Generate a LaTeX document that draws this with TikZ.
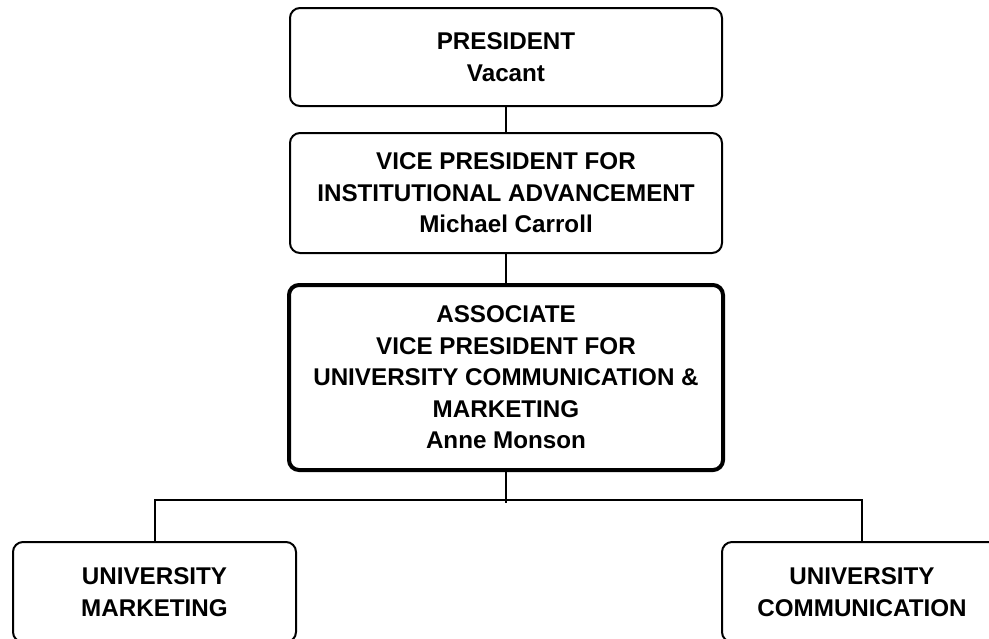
\documentclass[tikz,border=0pt]{standalone}
\usepackage{fontspec}
\setmainfont{Liberation Sans}
\begin{document}
\begin{tikzpicture}[x=0.5pt,y=-0.5pt,line width=1pt,
  post/.style={draw,rounded corners=5pt,align=center,inner sep=0pt},
  lead/.style={post,line width=2pt},
  every node/.style={font=\bfseries\fontsize{12.1}{15.75}\selectfont}]
 \useasboundingbox (0,0) rectangle (989,638);
 \node[post,minimum width=216pt,minimum height=49pt] (pres) at (506,57)
   {PRESIDENT\\Vacant};
 \node[post,minimum width=216pt,minimum height=60pt] (vp) at (506,193)
   {VICE PRESIDENT FOR\\INSTITUTIONAL ADVANCEMENT\\Michael Carroll};
 \node[lead,minimum width=217pt,minimum height=92.5pt] (avp) at (506,377.5)
   {ASSOCIATE\\VICE PRESIDENT FOR\\UNIVERSITY COMMUNICATION \&\\MARKETING\\Anne Monson};
 \node[post,minimum width=141.5pt,minimum height=50pt] (mkt) at (154.5,592)
   {UNIVERSITY\\MARKETING};
 \node[post,minimum width=140pt,minimum height=50pt] (com) at (862,592)
   {UNIVERSITY\\COMMUNICATION};
 \coordinate (bus) at (506,503);
 \draw (pres.south)--(vp.north);
 \draw (vp.south)--(avp.north);
 \draw (avp.south)--(bus);
 \draw (mkt.north) |- ([yshift=1.5pt]bus) -| (com.north);
\end{tikzpicture}
\end{document}
